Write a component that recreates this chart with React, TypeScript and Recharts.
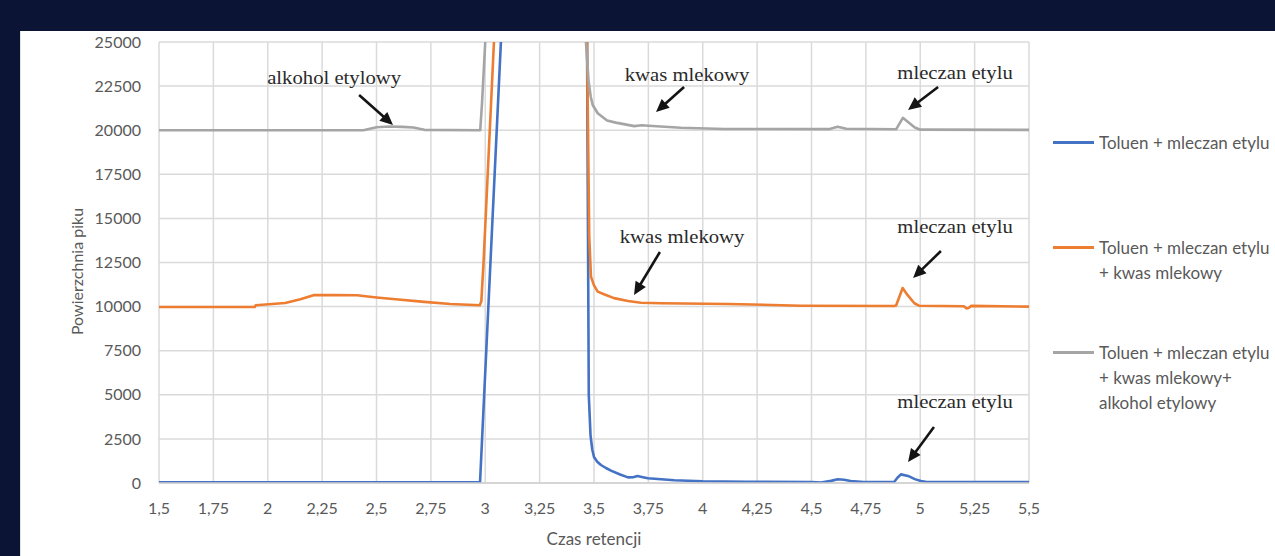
import React from 'react';
import { LineChart, Line, XAxis, YAxis, CartesianGrid, ReferenceLine, ReferenceDot } from 'recharts';

// ---- data ----
const xTicks = [1.5, 1.75, 2, 2.25, 2.5, 2.75, 3, 3.25, 3.5, 3.75, 4, 4.25, 4.5, 4.75, 5, 5.25, 5.5];
const yTicks = [0, 2500, 5000, 7500, 10000, 12500, 15000, 17500, 20000, 22500, 25000];

const blueTime = [1.5, 2.976, 3.072, 3.2, 3.4, 3.468, 3.476, 3.484, 3.492, 3.5, 3.515, 3.532, 3.555, 3.578, 3.62, 3.656, 3.68, 3.7, 3.725, 3.748, 3.808, 3.87, 3.932, 4.0, 4.2, 4.5, 4.544, 4.59, 4.62, 4.65, 4.68, 4.74, 4.88, 4.895, 4.911, 4.944, 4.975, 5.003, 5.03, 5.5];
const blueValue = [40, 40, 25000, 300000, 300000, 25000, 5000, 2700, 1900, 1470, 1200, 1020, 850, 700, 480, 320, 330, 400, 330, 265, 210, 160, 130, 95, 70, 60, 20, 120, 210, 180, 110, 60, 60, 300, 490, 400, 220, 110, 60, 60];

const orangeTime = [1.5, 1.94, 1.945, 2.08, 2.15, 2.21, 2.3, 2.41, 2.5, 2.6, 2.72, 2.84, 2.975, 2.982, 2.992, 3.04, 3.2, 3.4, 3.468, 3.478, 3.486, 3.5, 3.517, 3.546, 3.592, 3.656, 3.716, 3.808, 4.116, 4.452, 4.88, 4.889, 4.919, 4.942, 4.973, 4.994, 5.2, 5.212, 5.222, 5.235, 5.5];
const orangeValue = [9980, 9980, 10080, 10200, 10420, 10650, 10660, 10640, 10520, 10400, 10270, 10150, 10080, 10300, 12470, 25000, 300000, 300000, 25000, 14000, 11700, 11200, 10850, 10700, 10480, 10320, 10220, 10190, 10150, 10050, 10030, 10060, 11050, 10650, 10190, 10050, 10020, 9900, 9920, 10040, 10000];

const grayTime = [1.5, 2.44, 2.5, 2.56, 2.62, 2.67, 2.72, 2.977, 2.985, 3.0, 3.2, 3.4, 3.463, 3.475, 3.485, 3.494, 3.517, 3.56, 3.6, 3.685, 3.72, 3.75, 3.9, 4.1, 4.58, 4.62, 4.66, 4.889, 4.92, 4.945, 4.975, 5.0, 5.5];
const grayValue = [20000, 20000, 20170, 20210, 20190, 20150, 20020, 20000, 21500, 25000, 300000, 300000, 25000, 22800, 21900, 21430, 20960, 20550, 20430, 20230, 20280, 20250, 20140, 20070, 20060, 20200, 20080, 20050, 20700, 20450, 20150, 20030, 20020];

const seriesNames = [
  ['Toluen + mleczan etylu'],
  ['Toluen + mleczan etylu', '+ kwas mlekowy'],
  ['Toluen + mleczan etylu', '+ kwas mlekowy+', 'alkohol etylowy'],
];

// annotations in data coordinates (retention time, peak area)
const annotationText = ['alkohol etylowy', 'kwas mlekowy', 'mleczan etylu', 'kwas mlekowy', 'mleczan etylu', 'mleczan etylu'];
const annotationTextAt = [[2.305, 22960], [3.928, 23130], [5.16, 23240], [3.905, 13950], [5.16, 14510], [5.16, 4590]];
const annotationArrowFrom = [[2.42, 22000], [3.914, 22450], [5.082, 22450], [3.803, 13095], [5.095, 13150], [5.063, 3175]];
const annotationArrowTo = [[2.576, 20295], [3.785, 21030], [4.944, 21145], [3.684, 10660], [4.967, 11620], [4.944, 1190]];

const xLabel = 'Czas retencji';
const yLabel = 'Powierzchnia piku';

// ---- build ----
const toRows = (t: number[], v: number[]) => t.map((x, i) => ({ t: x, v: v[i] }));
const series = [
  { key: 'blue', data: toRows(blueTime, blueValue), color: '#4472C4', name: seriesNames[0] },
  { key: 'orange', data: toRows(orangeTime, orangeValue), color: '#ED7D31', name: seriesNames[1] },
  { key: 'gray', data: toRows(grayTime, grayValue), color: '#A5A5A5', name: seriesNames[2] },
];

const AXIS_FONT = 'Lato, "Open Sans", "Liberation Sans", sans-serif';
const AXIS_COLOR = '#595959';

const fmt = (v: number) => String(v).replace('.', ',');

const Arrow = (props: any) => {
  const { x1, y1, x2, y2 } = props;
  if (![x1, y1, x2, y2].every((n) => typeof n === 'number' && isFinite(n))) return null;
  const ang = Math.atan2(y2 - y1, x2 - x1);
  const len = 13;
  const hw = 6;
  const bx = x2 - len * Math.cos(ang);
  const by = y2 - len * Math.sin(ang);
  const px = -Math.sin(ang) * hw;
  const py = Math.cos(ang) * hw;
  return (
    <g>
      <line x1={x1} y1={y1} x2={bx + 2 * Math.cos(ang)} y2={by + 2 * Math.sin(ang)} stroke="#141414" strokeWidth={2.6} />
      <polygon points={`${x2},${y2} ${bx + px},${by + py} ${bx - px},${by - py}`} fill="#141414" />
    </g>
  );
};

const makeNoteLabel = (text: string) => (props: any) => {
  const vb = props.viewBox || {};
  const cx = (vb.x || 0) + (vb.width || 0) / 2;
  const cy = (vb.y || 0) + (vb.height || 0) / 2;
  return (
    <text
      transform={`translate(${cx},${cy}) scale(1.15,1)`}
      x={0}
      y={0}
      textAnchor="middle"
      dominantBaseline="central"
      fontFamily='"Liberation Serif", "DejaVu Serif", serif'
      fontSize={18}
      fill="#2a2a2a"
    >
      {text}
    </text>
  );
};

export default function App() {
  return (
    <div style={{ position: 'fixed', left: 0, top: 0, width: 1275, height: 556, background: '#0c1436', overflow: 'hidden' }}>
      <div style={{ position: 'absolute', left: 20, top: 31, width: 1255, height: 525, background: '#ffffff', borderLeft: '1px solid #e3e3e3', boxSizing: 'border-box', overflow: 'hidden' }}>
        <LineChart width={1255} height={525} margin={{ top: 11, right: 247, bottom: 0, left: 0 }}>
          <CartesianGrid stroke="#dadada" strokeWidth={1.5} />
          <XAxis
            type="number"
            dataKey="t"
            domain={[1.5, 5.5]}
            ticks={xTicks}
            tickFormatter={fmt}
            allowDataOverflow
            height={73}
            tickLine={false}
            tickMargin={14}
            axisLine={{ stroke: '#d0d0d0', strokeWidth: 1.5 }}
            tick={{ fill: AXIS_COLOR, fontSize: 16, fontFamily: AXIS_FONT }}
            label={{
              content: (p: any) => {
                const vb = p.viewBox || {};
                return (
                  <text x={vb.x + vb.width / 2} y={vb.y + 62} textAnchor="middle" fill={AXIS_COLOR} fontSize={17} fontFamily={AXIS_FONT}>
                    {xLabel}
                  </text>
                );
              },
            }}
          />
          <YAxis
            type="number"
            domain={[0, 25000]}
            ticks={yTicks}
            allowDataOverflow
            width={138}
            tickLine={false}
            axisLine={false}
            tickMargin={12}
            tick={{ fill: AXIS_COLOR, fontSize: 16, fontFamily: AXIS_FONT }}
            label={{
              content: (p: any) => {
                const vb = p.viewBox || {};
                const x = (vb.x || 0) + 55;
                const y = (vb.y || 0) + vb.height / 2 + 9;
                return (
                  <text x={x} y={y} transform={`rotate(-90, ${x}, ${y})`} textAnchor="middle" dominantBaseline="central" fill={AXIS_COLOR} fontSize={16} fontFamily={AXIS_FONT}>
                    {yLabel}
                  </text>
                );
              },
            }}
          />
          {series.map((s) => (
            <Line
              key={s.key}
              data={s.data}
              dataKey="v"
              type="linear"
              stroke={s.color}
              strokeWidth={2.6}
              dot={false}
              activeDot={false}
              isAnimationActive={false}
              strokeLinejoin="round"
            />
          ))}
          {annotationText.map((txt, i) => (
            <ReferenceLine
              key={`arrow-${i}`}
              segment={[
                { x: annotationArrowFrom[i][0], y: annotationArrowFrom[i][1] },
                { x: annotationArrowTo[i][0], y: annotationArrowTo[i][1] },
              ]}
              ifOverflow="visible"
              shape={Arrow}
            />
          ))}
          {annotationText.map((txt, i) => (
            <ReferenceDot
              key={`note-${i}`}
              x={annotationTextAt[i][0]}
              y={annotationTextAt[i][1]}
              r={0}
              fill="none"
              stroke="none"
              ifOverflow="visible"
              label={makeNoteLabel(txt)}
            />
          ))}
        </LineChart>
        <div style={{ position: 'absolute', left: 1032, top: 99, width: 220, fontFamily: AXIS_FONT, fontSize: 17, color: AXIS_COLOR, lineHeight: '25px', whiteSpace: 'nowrap' }}>
          {series.map((s, i) => (
            <div key={s.key} style={{ position: 'absolute', left: 0, top: i * 105, display: 'flex', alignItems: 'flex-start' }}>
              <div style={{ width: 41, height: 3, background: s.color, marginTop: 11, marginRight: 5, flex: 'none' }} />
              <div>
                {s.name.map((ln, j) => (
                  <div key={j}>{ln}</div>
                ))}
              </div>
            </div>
          ))}
        </div>
      </div>
    </div>
  );
}
